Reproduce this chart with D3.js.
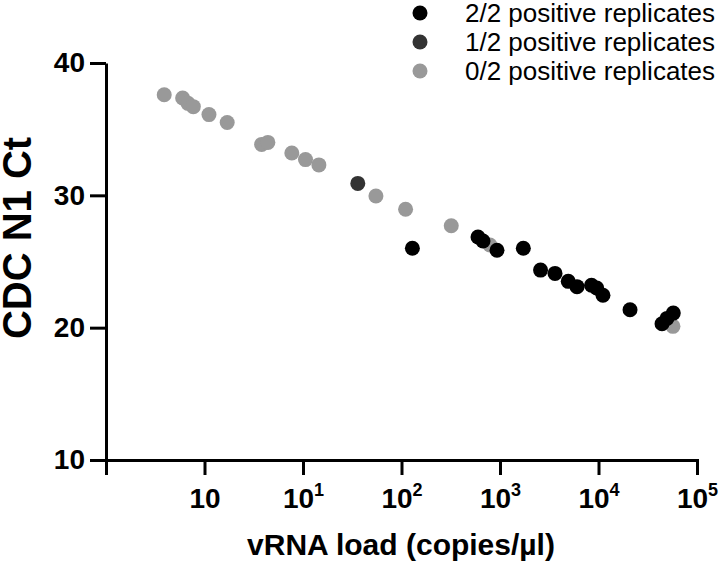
<!DOCTYPE html>
<html>
<head>
<meta charset="utf-8">
<script src="https://cdn.jsdelivr.net/npm/d3@7"></script>
<style>
  html, body { margin: 0; padding: 0; background: #fff; }
  svg { display: block; }
  text { font-family: "Liberation Sans", Arial, Helvetica, sans-serif; }
</style>
</head>
<body>
<svg id="chart" width="720" height="563"></svg>
<script>
// ---- data ----
const grayX = [0.39, 0.6, 0.68, 0.77, 1.11, 1.7, 3.8, 4.4, 7.7, 10.6, 14.5, 55, 110, 320, 790, 57000];
const grayY = [37.6, 37.35, 36.95, 36.7, 36.1, 35.5, 33.85, 34.0, 33.2, 32.7, 32.3, 29.95, 28.95, 27.7, 26.25, 20.1];
const darkX = [36];
const darkY = [30.9];
const blackX = [129, 598, 672, 932, 1725, 2580, 3620, 4930, 6050, 8490, 9590, 11100, 20900, 44150, 49600, 57450];
const blackY = [26.0, 26.85, 26.55, 25.85, 26.0, 24.35, 24.1, 23.5, 23.1, 23.2, 23.0, 22.45, 21.35, 20.3, 20.7, 21.1];

const legendLabels = ["2/2 positive replicates", "1/2 positive replicates", "0/2 positive replicates"];
const xTickValues = [0.1, 1, 10, 100, 1000, 10000, 100000];
const xTickBases = ["", "10", "10", "10", "10", "10", "10"];
const xTickExps = ["", "", "1", "2", "3", "4", "5"];
const yTickValues = [10, 20, 30, 40];
const xTitle = "vRNA load (copies/\u00b5l)";
const yTitle = "CDC N1 Ct";

const colors = { black: "#000000", dark: "#333333", gray: "#999999" };

// ---- layout ----
const svg = d3.select("#chart");
const x = d3.scaleLog().domain([0.1, 100000]).range([106, 697]);
const y = d3.scaleLinear().domain([10, 40]).range([460, 63]);
const r = 7.5;

// axes
const xAxis = d3.axisBottom(x).tickValues(xTickValues).tickSize(15).tickSizeOuter(0).tickFormat(() => "");
const gx = svg.append("g").attr("transform", "translate(0,460)").call(xAxis);
gx.select(".domain").attr("stroke", "#000").attr("stroke-width", 3).attr("stroke-linecap", "square");
gx.selectAll(".tick line").attr("stroke", "#000").attr("stroke-width", 3);
gx.selectAll(".tick text").remove();
gx.selectAll(".tick").each(function(d, i) {
  if (!xTickBases[i]) return;
  const t = d3.select(this).append("text")
    .attr("y", 48).attr("x", 0)
    .attr("text-anchor", "middle")
    .attr("fill", "#000")
    .attr("font-weight", "bold")
    .attr("font-size", 28);
  t.append("tspan").text(xTickBases[i]);
  if (xTickExps[i]) {
    t.append("tspan").attr("dy", -12).attr("font-size", 18).text(xTickExps[i]);
  }
});

const yAxis = d3.axisLeft(y).tickValues(yTickValues).tickSize(16).tickSizeOuter(0).tickPadding(5);
const gy = svg.append("g").attr("transform", "translate(106,0)").call(yAxis);
gy.select(".domain").attr("stroke", "#000").attr("stroke-width", 3);
gy.selectAll(".tick line").attr("stroke", "#000").attr("stroke-width", 3);
gy.selectAll(".tick text")
  .attr("fill", "#000")
  .attr("font-weight", "bold")
  .attr("font-size", 28)
  .attr("font-family", "'Liberation Sans', Arial, sans-serif");

// titles
svg.append("text")
  .attr("x", 401).attr("y", 555)
  .attr("text-anchor", "middle")
  .attr("font-weight", "bold").attr("font-size", 30)
  .text(xTitle);
svg.append("text")
  .attr("transform", "translate(31,238) rotate(-90)")
  .attr("text-anchor", "middle")
  .attr("font-weight", "bold").attr("font-size", 40)
  .text(yTitle);

// points
const gp = svg.append("g");
function drawSeries(xs, ys, color) {
  gp.selectAll(null)
    .data(xs.map((v, i) => [v, ys[i]]))
    .enter().append("circle")
    .attr("cx", d => x(d[0]))
    .attr("cy", d => y(d[1]))
    .attr("r", r)
    .attr("fill", color);
}
drawSeries(grayX, grayY, colors.gray);
drawSeries(darkX, darkY, colors.dark);
drawSeries(blackX, blackY, colors.black);

// legend
const legColors = [colors.black, colors.dark, colors.gray];
const legY = d3.scalePoint().domain(legendLabels).range([13, 71]);
const lg = svg.append("g");
legendLabels.forEach((lab, i) => {
  lg.append("circle").attr("cx", 420).attr("cy", legY(lab)).attr("r", r).attr("fill", legColors[i]);
  lg.append("text")
    .attr("x", 465).attr("y", legY(lab))
    .attr("dy", "0.36em")
    .attr("font-size", 26)
    .attr("fill", "#000")
    .text(lab);
});
</script>
</body>
</html>
